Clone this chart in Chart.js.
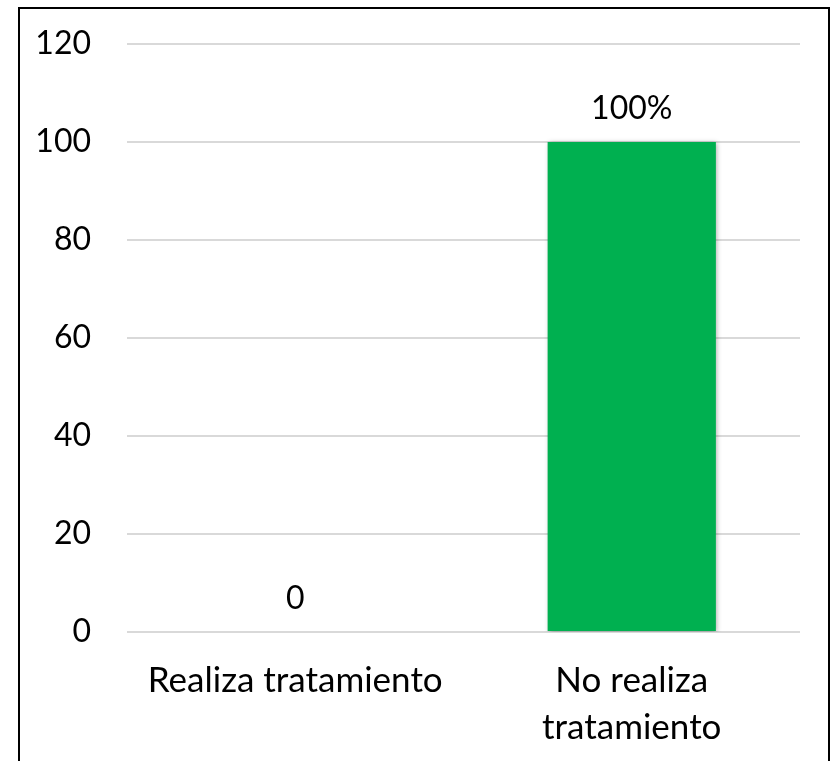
<!DOCTYPE html>
<html lang="es">
<head>
  <meta charset="UTF-8">
  <title>Tratamiento</title>
  <style>
    body { margin: 0; background: #fff; width: 831px; height: 761px; overflow: hidden; position: relative; }
    .frame { position: absolute; left: 18px; top: 7px; width: 808px; height: 800px; border: 2px solid #000; border-bottom: none; }
    #chart { position: absolute; left: 0; top: 0; }
  </style>
  <script src="https://cdn.jsdelivr.net/npm/chart.js"></script>
</head>
<body>
  <div class="frame"></div>
  <canvas id="chart" width="831" height="761"></canvas>
  <script>
    // --- datos ---
    const categories = ['Realiza tratamiento', ['No realiza', 'tratamiento']];
    const values = [0, 100];
    const valueLabels = ['0', '100%'];
    const yTicks = [0, 20, 40, 60, 80, 100, 120];

    const FONT = 'Lato, "Open Sans", sans-serif';

    // etiquetas encima de las barras
    const valueLabelPlugin = {
      id: 'valueLabels',
      afterDatasetsDraw(chart) {
        const ctx = chart.ctx;
        const meta = chart.getDatasetMeta(0);
        ctx.save();
        ctx.font = '32px ' + FONT;
        ctx.fillStyle = '#000';
        ctx.textAlign = 'center';
        ctx.textBaseline = 'middle';
        meta.data.forEach((bar, i) => {
          ctx.fillText(valueLabels[i], bar.x, bar.y - 33);
        });
        ctx.restore();
      }
    };

    // sombra suave de las barras
    const shadowPlugin = {
      id: 'barShadow',
      beforeDatasetDraw(chart) {
        const ctx = chart.ctx;
        ctx.save();
        ctx.shadowColor = 'rgba(0,0,0,0.35)';
        ctx.shadowBlur = 5;
        ctx.shadowOffsetX = 1;
        ctx.shadowOffsetY = 1;
      },
      afterDatasetDraw(chart) {
        chart.ctx.restore();
      }
    };

    new Chart(document.getElementById('chart').getContext('2d'), {
      type: 'bar',
      data: {
        labels: categories,
        datasets: [{
          data: values,
          backgroundColor: '#00b050',
          barPercentage: 1,
          categoryPercentage: 0.5
        }]
      },
      options: {
        responsive: false,
        animation: false,
        layout: { padding: { top: 44, right: 31, left: 0, bottom: 0 } },
        plugins: {
          legend: { display: false },
          tooltip: { enabled: false }
        },
        scales: {
          x: {
            grid: { display: false, drawTicks: false },
            border: { display: false },
            ticks: {
              color: '#000',
              font: { family: FONT, size: 35, lineHeight: 1.32 },
              padding: 26,
              maxRotation: 0
            },
            afterFit(scale) { scale.height = 129; }
          },
          y: {
            min: 0,
            max: 120,
            afterBuildTicks(scale) { scale.ticks = yTicks.map(v => ({ value: v })); },
            grid: { color: '#d9d9d9', lineWidth: 2, drawTicks: false },
            border: { display: false },
            ticks: {
              color: '#000',
              // lineHeight bajo para que la etiqueta superior no empuje el área
              font: { family: FONT, size: 32, lineHeight: 0.25 },
              padding: 36
            },
            afterFit(scale) { scale.width = 127; }
          }
        }
      },
      plugins: [shadowPlugin, valueLabelPlugin]
    });
  </script>
</body>
</html>
